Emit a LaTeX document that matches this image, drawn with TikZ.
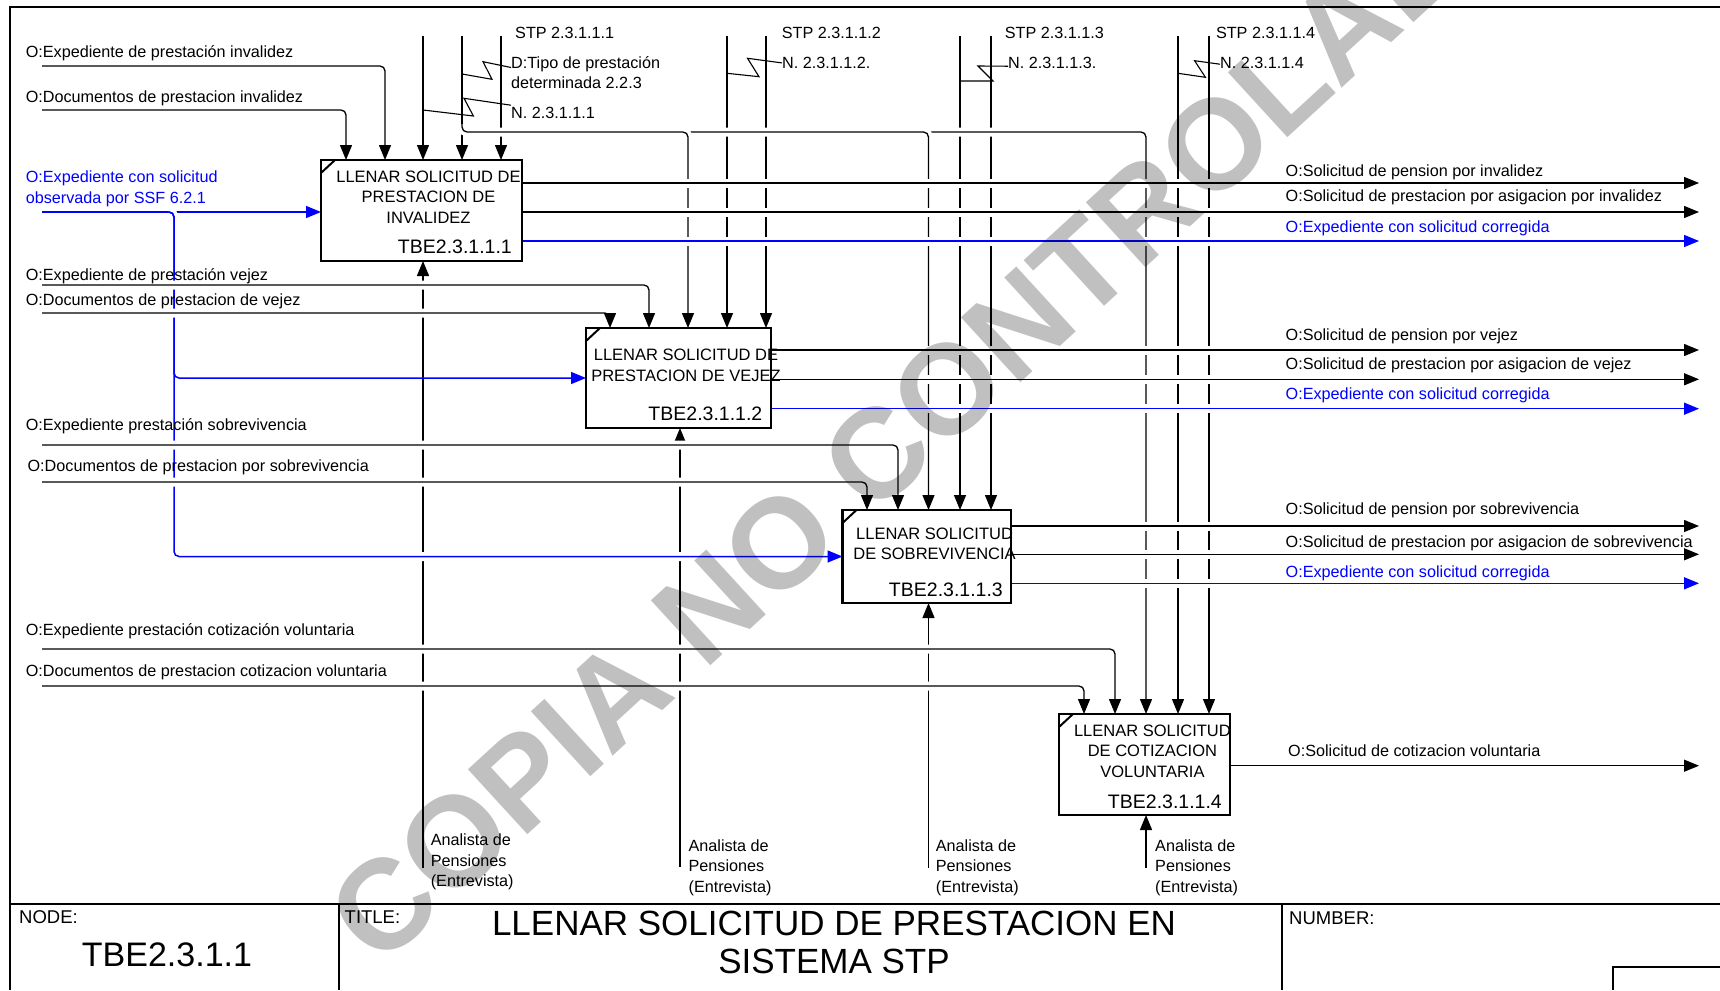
\documentclass[tikz,border=0pt]{standalone}
\usepackage{fontspec}
\setmainfont{Liberation Sans}
\usetikzlibrary{arrows.meta,calc}

\definecolor{wmgray}{RGB}{192,192,192}
\pgfdeclarelayer{back}
\pgfsetlayers{back,main}

\tikzset{act/.style = {draw, line width=2.6pt, inner sep=0pt, outer sep=0pt}}

\begin{document}
\begin{tikzpicture}[x=1pt, y=-1pt]
            % Define node styles
            \tikzstyle{lbl} = [inner sep=0pt, align=left, font=\fontsize{16.2}{20.5}\selectfont]
            \tikzstyle{boxtxt} = [inner sep=0pt, align=center, font=\fontsize{16.5}{20.3}\selectfont]
            \tikzstyle{boxnum} = [inner sep=0pt, font=\fontsize{19.5}{22}\selectfont]
            \tikzstyle{hdr} = [inner sep=0pt, font=\fontsize{18.5}{22}\selectfont]
            \tikzstyle{arr} = [line width=1.3pt, rounded corners=5pt, -{Triangle[length=15pt, width=12pt]}]
            \tikzstyle{barr} = [arr, blue, line width=1.5pt]
            \tikzstyle{brk} = [preaction={draw=white, line width=9pt, arrows=-}]
            \tikzstyle{sq} = [line width=1.1pt]
            \tikzstyle{frm} = [line width=2pt]

            \useasboundingbox (0,0) rectangle (1720,990);
            \clip (0,0) rectangle (1720,990);

            % Frame and title block
            \draw[frm] (9.6,990) -- (9.6,6.7) -- (1720,6.7);
            \draw[frm] (9.6,904) -- (1720,904);
            \draw[frm] (339,904) -- (339,990);
            \draw[frm] (1282,904) -- (1282,990);
            \draw[line width=1.2pt] (1613,990) -- (1613,967) -- (1720,967);
            \node[hdr, anchor=base west] (hnode) at (19,923.3) {NODE:};
            \node[inner sep=0pt, font=\fontsize{34}{38}\selectfont, anchor=base] (hnodev) at (167,966) {TBE2.3.1.1};
            \node[hdr, anchor=base west] (htitle) at (344.5,923.3) {TITLE:};
            \node[inner sep=0pt, align=center, font=\fontsize{35}{38.4}\selectfont, anchor=north] (htitlev) at (834,910.8) {LLENAR SOLICITUD DE PRESTACION EN\\SISTEMA STP};
            \node[hdr, anchor=base west] (hnum) at (1289,924) {NUMBER:};

            % Activity boxes
            \node[act, minimum width=201pt, minimum height=101pt] (a1) at (421.5,210.5) {};
            \node[act, minimum width=185pt, minimum height=100pt] (a2) at (678.5,378) {};
            \node[act, minimum width=168.5pt, minimum height=93pt] (a3) at (926.75,556.5) {};
            \node[act, minimum width=171pt, minimum height=101pt] (a4) at (1144.5,764.5) {};
            \draw[line width=2pt] ([yshift=-13]a1.north west) -- ([xshift=14]a1.north west);
            \draw[line width=2pt] ([yshift=-13]a2.north west) -- ([xshift=14]a2.north west);
            \draw[line width=2pt] ([yshift=-13]a3.north west) -- ([xshift=14]a3.north west);
            \draw[line width=2pt] ([yshift=-13]a4.north west) -- ([xshift=14]a4.north west);

            % Box texts
            \node[boxtxt, anchor=north] (a1t) at ([xshift=7, yshift=-10.8]a1.north) {LLENAR SOLICITUD DE\\PRESTACION DE\\INVALIDEZ};
            \node[boxnum, anchor=base east] (a1n) at ([xshift=-10, yshift=7.1]a1.south east) {TBE2.3.1.1.1};
            \node[boxtxt, anchor=north] (a2t) at ([xshift=7.5, yshift=-21.1]a2.north) {LLENAR SOLICITUD DE\\PRESTACION DE VEJEZ};
            \node[boxnum, anchor=base east] (a2n) at ([xshift=-8.5, yshift=7.1]a2.south east) {TBE2.3.1.1.2};
            \node[boxtxt, anchor=north] (a3t) at ([xshift=7.8, yshift=-17.4]a3.north) {LLENAR SOLICITUD\\DE SOBREVIVENCIA};
            \node[boxnum, anchor=base east] (a3n) at ([xshift=-8, yshift=6.4]a3.south east) {TBE2.3.1.1.3};
            \node[boxtxt, anchor=north] (a4t) at ([xshift=7.9, yshift=-10.8]a4.north) {LLENAR SOLICITUD\\DE COTIZACION\\VOLUNTARIA};
            \node[boxnum, anchor=base east] (a4n) at ([xshift=-8, yshift=6.7]a4.south east) {TBE2.3.1.1.4};

            % Input labels (left)
            \node[lbl, anchor=base west] (l1) at (25.6,57.5) {O:Expediente de prestación invalidez};
            \node[lbl, anchor=base west] (l2) at (25.6,102.5) {O:Documentos de prestacion invalidez};
            \node[lbl, blue, anchor=north west] (lb) at (25.6,170.9) {O:Expediente con solicitud\\observada por SSF 6.2.1};
            \node[lbl, anchor=base west] (l3) at (25.6,280.8) {O:Expediente de prestación vejez};
            \node[lbl, anchor=base west] (l4) at (25.6,305.8) {O:Documentos de prestacion de vejez};
            \node[lbl, anchor=base west] (l5) at (25.6,430.1) {O:Expediente prestación sobrevivencia};
            \node[lbl, anchor=base west] (l6) at (27.4,471.8) {O:Documentos de prestacion por sobrevivencia};
            \node[lbl, anchor=base west] (l7) at (25.6,635.8) {O:Expediente prestación cotización voluntaria};
            \node[lbl, anchor=base west] (l8) at (25.6,676.5) {O:Documentos de prestacion cotizacion voluntaria};

            % Control labels (top)
            \node[lbl, anchor=base west] (lS1) at (515,39) {STP 2.3.1.1.1};
            \node[lbl, anchor=base west] (lS2) at (781.6,39) {STP 2.3.1.1.2};
            \node[lbl, anchor=base west] (lS3) at (1004.6,39) {STP 2.3.1.1.3};
            \node[lbl, anchor=base west] (lS4) at (1215.8,39) {STP 2.3.1.1.4};
            \node[lbl, anchor=north west] (lD) at (511,56) {D:Tipo de prestación\\determinada 2.2.3};
            \node[lbl, anchor=base west] (lN1) at (511,118.5) {N. 2.3.1.1.1};
            \node[lbl, anchor=base west] (lN2) at (782,68.5) {N. 2.3.1.1.2.};
            \node[lbl, anchor=base west] (lN3) at (1008,68.5) {N. 2.3.1.1.3.};
            \node[lbl, anchor=base west] (lN4) at (1220,68.5) {N. 2.3.1.1.4};

            % Output labels (right)
            \node[lbl, anchor=base west] (r11) at (1285.5,176.5) {O:Solicitud de pension por invalidez};
            \node[lbl, anchor=base west] (r12) at (1285.5,201.7) {O:Solicitud de prestacion por asigacion por invalidez};
            \node[lbl, blue, anchor=base west] (r13) at (1285.5,232.5) {O:Expediente con solicitud corregida};
            \node[lbl, anchor=base west] (r21) at (1285.5,340.8) {O:Solicitud de pension por vejez};
            \node[lbl, anchor=base west] (r22) at (1285.5,369.8) {O:Solicitud de prestacion por asigacion de vejez};
            \node[lbl, blue, anchor=base west] (r23) at (1285.5,399.1) {O:Expediente con solicitud corregida};
            \node[lbl, anchor=base west] (r31) at (1285.5,514.1) {O:Solicitud de pension por sobrevivencia};
            \node[lbl, anchor=base west] (r32) at (1285.5,547.5) {O:Solicitud de prestacion por asigacion de sobrevivencia};
            \node[lbl, blue, anchor=base west] (r33) at (1285.5,577.5) {O:Expediente con solicitud corregida};
            \node[lbl, anchor=base west] (r41) at (1288,756.8) {O:Solicitud de cotizacion voluntaria};

            % Mechanism labels (bottom)
            \node[lbl, anchor=north west] (lM1) at (430.6,833.6) {Analista de\\Pensiones\\(Entrevista)};
            \node[lbl, anchor=north west] (lM2) at (688.4,839.3) {Analista de\\Pensiones\\(Entrevista)};
            \node[lbl, anchor=north west] (lM3) at (935.7,839.3) {Analista de\\Pensiones\\(Entrevista)};
            \node[lbl, anchor=north west] (lM4) at (1155,839.3) {Analista de\\Pensiones\\(Entrevista)};

            % Free ends of the arrows
            \coordinate (c1) at (423,36);
            \coordinate (c2) at (462,36);
            \coordinate (c3) at (501,36);
            \coordinate (c4) at (727,36);
            \coordinate (c5) at (766,36);
            \coordinate (c6) at (960,36);
            \coordinate (c7) at (991,36);
            \coordinate (c8) at (1178,36);
            \coordinate (c9) at (1209,36);
            \coordinate (q1) at (462,74);
            \coordinate (q2) at (423,110);
            \coordinate (q3) at (727,73.3);
            \coordinate (q4) at (960,81);
            \coordinate (q5) at (1178,73.3);
            \coordinate (dj) at (462,124);
            \coordinate (dh) at (1146,132);
            \coordinate (bi) at (42,212);
            \coordinate (bj) at (174,212);
            \coordinate (i1) at (42,66);
            \coordinate (i2) at (42,110);
            \coordinate (i3) at (42,285);
            \coordinate (i4) at (42,313);
            \coordinate (i5) at (42,445);
            \coordinate (i6) at (42,482);
            \coordinate (i7) at (42,649);
            \coordinate (i8) at (42,686);
            \coordinate (o11) at (1699,183);
            \coordinate (o12) at (1699,212);
            \coordinate (o13) at (1699,241);
            \coordinate (o21) at (1699,350);
            \coordinate (o22) at (1699,379.3);
            \coordinate (o23) at (1699,408.7);
            \coordinate (o31) at (1699,526);
            \coordinate (o32) at (1699,554.3);
            \coordinate (o33) at (1699,583.3);
            \coordinate (o41) at (1699,765.7);
            \coordinate (m1) at (423,868);
            \coordinate (m2) at (680,867);
            \coordinate (m3) at (928.5,868);
            \coordinate (m4) at (1146,868);

            \begin{pgfonlayer}{back}
            % Controls from the top
            \draw[arr] (c1) -- (c1 |- a1.north);
            \draw[arr] (c2) -- (c2 |- a1.north);
            \draw[arr] (c3) -- (c3 |- a1.north);
            \draw[arr] (c4) -- (c4 |- a2.north);
            \draw[arr] (c5) -- (c5 |- a2.north);
            \draw[arr] (c6) -- (c6 |- a3.north);
            \draw[arr] (c7) -- (c7 |- a3.north);
            \draw[arr] (c8) -- (c8 |- a4.north);
            \draw[arr] (c9) -- (c9 |- a4.north);

            % Mechanisms from the bottom
            \draw[arr] (m1) -- (m1 |- a1.south);
            \draw[arr] (m2) -- (m2 |- a2.south);
            \draw[arr] (m3) -- (m3 |- a3.south);
            \draw[arr] (m4) -- (m4 |- a4.south);

            % Squiggles to the labels
            \draw[sq] (q1) -- ++(30,5.3) -- ++(-9,-17.6) -- ([yshift=5]lD.west);
            \draw[sq] (q2) -- ++(50.4,6) -- ++(-9.4,-17.7) -- ([yshift=7.7]lN1.west);
            \draw[sq] (q3) -- ++(32,3.4) -- ++(-11.5,-18.4) -- (lN2.west);
            \draw[sq] (q4) -- ++(33,0) -- ++(-15,-15) -- ([yshift=-3.3]lN3.west);
            \draw[sq] (q5) -- ++(27.4,4) -- ++(-10.8,-16.6) -- ([yshift=-1.3]lN4.west);

            % Tipo de prestacion to all boxes
            \draw[arr, brk] (dj) |- (dh) -- (dh |- a4.north);
            \draw[arr, brk] ($(dh)-(470,0)$) -| ([xshift=102]a2.north west);
            \draw[arr, brk] ($(dh)-(228,0)$) -| ([xshift=86]a3.north west);

            % Blue input
            \draw[barr, brk] (bi) -- (bi -| a1.west);
            \draw[barr, brk] ($(bj)-(6,0)$) -| (bj |- a3.west) -- (a3.west);
            \draw[barr] ($(bj)-(6,0)$) -| (bj |- a2.west) -- (a2.west);

            % Inputs
            \draw[arr, brk] (i1) -| ([xshift=64]a1.north west);
            \draw[arr, brk] (i2) -| ([xshift=25]a1.north west);
            \draw[arr, brk] (i3) -| ([xshift=63]a2.north west);
            \draw[arr, brk] (i4) -| ([xshift=24]a2.north west);
            \draw[arr, brk] (i5) -| ([xshift=55.5]a3.north west);
            \draw[arr, brk] (i6) -| ([xshift=24.5]a3.north west);
            \draw[arr, brk] (i7) -| ([xshift=56]a4.north west);
            \draw[arr, brk] (i8) -| ([xshift=25]a4.north west);

            % Outputs
            \draw[arr, brk] (o11 -| a1.east) -- (o11);
            \draw[arr, brk] (o12 -| a1.east) -- (o12);
            \draw[barr, brk] (o13 -| a1.east) -- (o13);
            \draw[arr, brk] (o21 -| a2.east) -- (o21);
            \draw[arr, brk] (o22 -| a2.east) -- (o22);
            \draw[barr, brk] (o23 -| a2.east) -- (o23);
            \draw[arr, brk] (o31 -| a3.east) -- (o31);
            \draw[arr, brk] (o32 -| a3.east) -- (o32);
            \draw[barr, brk] (o33 -| a3.east) -- (o33);
            \draw[arr, brk] (o41 -| a4.east) -- (o41);
            \end{pgfonlayer}

            % Watermark
            \begin{scope}[blend mode=multiply]
            \node[text=wmgray, inner sep=0pt, rotate=42.5, font=\fontsize{128}{128}\selectfont\bfseries] (wm) at (932,404) {COPIA NO CONTROLADA};
            \end{scope}
\end{tikzpicture}
\end{document}
